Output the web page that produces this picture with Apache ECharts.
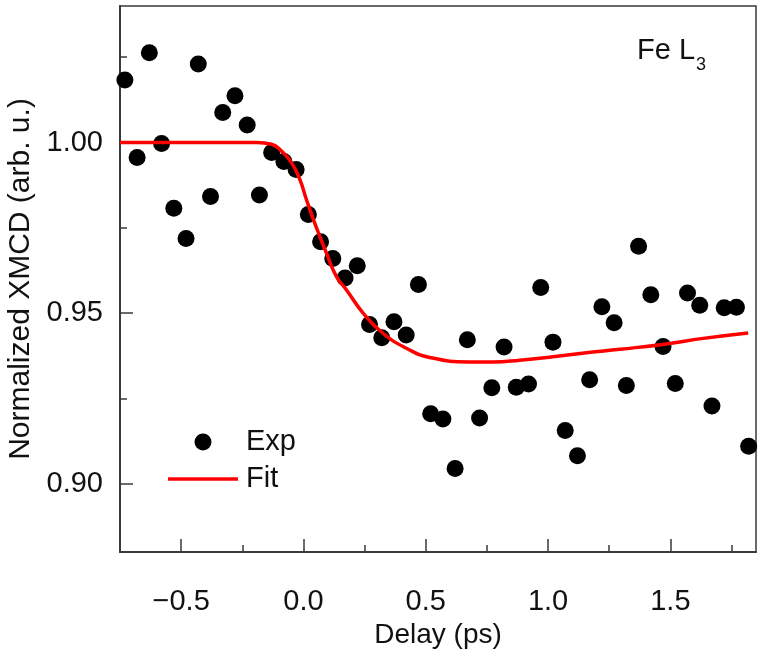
<!DOCTYPE html>
<html lang="en">
<head>
    <meta charset="UTF-8">
    <title>XMCD delay</title>
    <script src="https://cdn.jsdelivr.net/npm/echarts@6/dist/echarts.min.js"></script>
    <style>
        html, body {
            margin: 0;
            border: 0;
            background: #fff;
        }

        #chart {
            width: 763px;
            height: 652px;
        }
    </style>
</head>
<body>
<div id="chart"></div>
<script type="text/javascript">
    // measured points (Exp)
    const expX = [-0.78, -0.73, -0.68, -0.63, -0.58, -0.53, -0.48, -0.43, -0.38, -0.33, -0.28,
        -0.23, -0.18, -0.13, -0.08, -0.03, 0.02, 0.07, 0.12, 0.17, 0.22,
        0.27, 0.32, 0.37, 0.42, 0.47, 0.52, 0.57, 0.62, 0.67, 0.72,
        0.77, 0.82, 0.87, 0.92, 0.97, 1.02, 1.07, 1.12, 1.17, 1.22,
        1.27, 1.32, 1.37, 1.42, 1.47, 1.52, 1.57, 1.62, 1.67, 1.72,
        1.77, 1.82];
    const expY = [0.9678, 1.0183, 0.9956, 1.0263, 0.9997, 0.9807, 0.9719, 1.0230, 0.9842, 1.0088, 1.0137,
        1.0051, 0.9846, 0.9971, 0.9944, 0.9921, 0.9789, 0.9709, 0.9660, 0.9603, 0.9639,
        0.9467, 0.9428, 0.9475, 0.9436, 0.9584, 0.9205, 0.9190, 0.9045, 0.9422, 0.9193,
        0.9281, 0.9401, 0.9283, 0.9292, 0.9575, 0.9415, 0.9156, 0.9082, 0.9305, 0.9519,
        0.9472, 0.9288, 0.9696, 0.9554, 0.9402, 0.9294, 0.9559, 0.9523, 0.9228, 0.9516,
        0.9517, 0.9110];

    // fit curve
    const fitX = [-0.75, -0.192, -0.131, -0.090, -0.049, -0.015, 0.012, 0.046, 0.094, 0.135, 0.176,
        0.244, 0.325, 0.421, 0.516, 0.680, 0.775, 0.884, 1.020, 1.157, 1.293, 1.477, 1.634, 1.818];
    const fitY = [1.0, 1.0, 0.9995, 0.9975, 0.9941, 0.9892, 0.9833, 0.9764, 0.9676, 0.9607, 0.9568,
        0.9500, 0.9441, 0.9397, 0.9370, 0.9357, 0.9357, 0.9362, 0.9372, 0.9384, 0.9394, 0.9409, 0.9426, 0.9442];

    const xMajorTicks = [-0.5, 0, 0.5, 1.0, 1.5];
    const xMinorTicks = [-0.25, 0.25, 0.75, 1.25, 1.75];
    const yMajorTicks = [0.90, 0.95, 1.00];
    const yMinorTicks = [0.925, 0.975, 1.025];

    const font = 'Liberation Sans, Arial, Helvetica, sans-serif';
    const axisColor = '#3a3a3a';

    const fmtX = (v) => (v < 0 ? '\u2212' : '') + Math.abs(v).toFixed(1);

    window.onload = () => {
        const chart = echarts.init(document.querySelector('#chart'), null, {renderer: 'canvas'});
        const exp = expX.map((x, i) => [x, expY[i]]);
        const fit = fitX.map((x, i) => [x, fitY[i]]);

        const xBase = {
            type: 'value',
            min: -0.75,
            max: 1.85,
            splitLine: {show: false}
        };
        const yBase = {
            type: 'value',
            min: 0.88,
            max: 1.04,
            splitLine: {show: false}
        };

        const option = {
            backgroundColor: '#fff',
            animation: false,
            grid: {
                left: 120,
                right: 7,
                top: 6,
                bottom: 100,
                containLabel: false,
                outerBoundsMode: 'none',
                show: true,
                borderColor: axisColor,
                borderWidth: 1.5
            },
            legend: {
                orient: 'vertical',
                left: 168,
                top: 427,
                padding: 0,
                itemWidth: 70,
                itemHeight: 17,
                itemGap: 7,
                selectedMode: false,
                textStyle: {fontFamily: font, fontSize: 29, color: '#111', lineHeight: 30, padding: [0, 0, 0, 3]},
                data: [
                    {name: 'Exp', icon: 'circle', itemStyle: {color: '#000', opacity: 1}},
                    {name: 'Fit', icon: 'path://M0,0L70,0L70,3.5L0,3.5Z', itemStyle: {color: '#ff0000'}}
                ]
            },
            xAxis: [
                Object.assign({}, xBase, {
                    name: 'Delay (ps)',
                    nameLocation: 'middle',
                    nameGap: 66,
                    nameTextStyle: {fontFamily: font, fontSize: 28, color: '#111'},
                    axisLine: {onZero: false, lineStyle: {color: axisColor, width: 2}},
                    axisTick: {inside: true, length: 13, customValues: xMajorTicks,
                        lineStyle: {color: axisColor, width: 1.5}},
                    axisLabel: {customValues: xMajorTicks, margin: 35, formatter: fmtX,
                        fontFamily: font, fontSize: 29, color: '#111'}
                }),
                Object.assign({}, xBase, {
                    position: 'bottom',
                    axisLine: {show: false, onZero: false},
                    axisTick: {inside: true, length: 7, customValues: xMinorTicks,
                        lineStyle: {color: axisColor, width: 1.5}},
                    axisLabel: {show: false}
                })
            ],
            yAxis: [
                Object.assign({}, yBase, {
                    name: 'Normalized XMCD (arb. u.)',
                    nameLocation: 'middle',
                    nameGap: 84,
                    nameTextStyle: {fontFamily: font, fontSize: 30, color: '#111'},
                    axisLine: {onZero: false, lineStyle: {color: axisColor, width: 2}},
                    axisTick: {inside: true, length: 13, customValues: yMajorTicks,
                        lineStyle: {color: axisColor, width: 1.5}},
                    axisLabel: {customValues: yMajorTicks, margin: 17, formatter: (v) => v.toFixed(2),
                        fontFamily: font, fontSize: 29, color: '#111'}
                }),
                Object.assign({}, yBase, {
                    position: 'left',
                    axisLine: {show: false, onZero: false},
                    axisTick: {inside: true, length: 7, customValues: yMinorTicks,
                        lineStyle: {color: axisColor, width: 1.5}},
                    axisLabel: {show: false}
                })
            ],
            graphic: [
                {
                    type: 'text', left: 637, top: 36,
                    style: {text: 'Fe L', fontFamily: font, fontSize: 29, fill: '#111'}
                },
                {
                    type: 'text', left: 696, top: 56,
                    style: {text: '3', fontFamily: font, fontSize: 18, fill: '#111'}
                }
            ],
            series: [
                {
                    name: 'Exp',
                    type: 'scatter',
                    symbol: 'circle',
                    symbolSize: 17,
                    itemStyle: {color: '#000', opacity: 1},
                    clip: true,
                    z: 2,
                    data: exp
                },
                {
                    name: 'Fit',
                    type: 'line',
                    smooth: true,
                    showSymbol: false,
                    symbol: 'none',
                    lineStyle: {color: '#ff0000', width: 3.5},
                    itemStyle: {color: '#ff0000'},
                    clip: true,
                    z: 3,
                    data: fit
                }
            ]
        };
        chart.setOption(option);
    };
</script>
</body>
</html>
